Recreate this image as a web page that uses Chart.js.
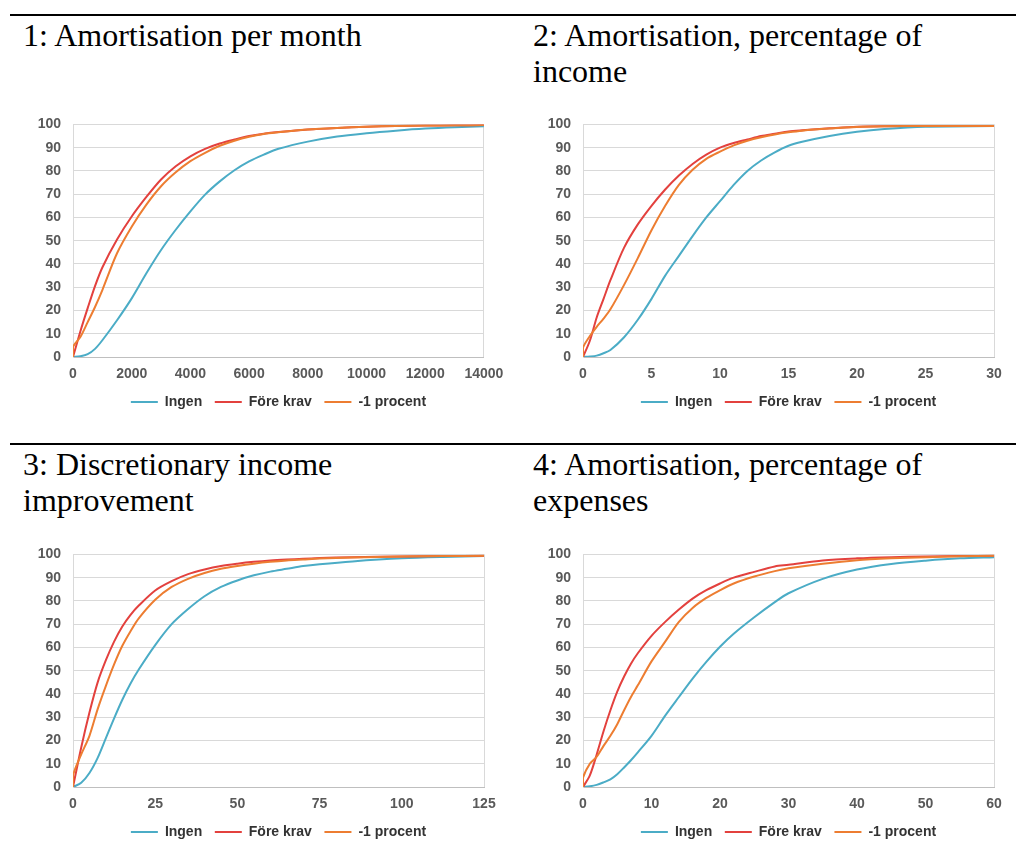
<!DOCTYPE html>
<html>
<head>
<meta charset="utf-8">
<script src="https://cdn.jsdelivr.net/npm/chart.js@4"></script>
<style>
  html, body { margin: 0; padding: 0; background: #ffffff; }
  body { width: 1016px; height: 863px; position: relative; overflow: hidden; }
  .rule { position: absolute; left: 10px; width: 1006px; height: 2px; background: #000; }
  .title { position: absolute; font-family: "Liberation Serif", "Times New Roman", serif; font-size: 32px; line-height: 36px; color: #000; white-space: nowrap; }
  .box { position: absolute; width: 492px; height: 320px; }
</style>
</head>
<body>
<div class="rule" style="top:14px"></div>
<div class="rule" style="top:443px"></div>

<div class="title" style="left:23px; top:17px">1: Amortisation per month</div>
<div class="title" style="left:533px; top:17px">2: Amortisation, percentage of<br>income</div>
<div class="title" style="left:23px; top:446px">3: Discretionary income<br>improvement</div>
<div class="title" style="left:533px; top:446px">4: Amortisation, percentage of<br>expenses</div>

<div class="box" style="left:20px; top:104px"><canvas id="c1"></canvas></div>
<div class="box" style="left:530px; top:104px"><canvas id="c2"></canvas></div>
<div class="box" style="left:20px; top:534px"><canvas id="c3"></canvas></div>
<div class="box" style="left:530px; top:534px"><canvas id="c4"></canvas></div>

<script>
// ---- Data ----
const seriesNames = ["Ingen", "Före krav", "-1 procent"];
const seriesColors = ["#4BACC6", "#E3413E", "#ED7D31"];
const yTicks = [0, 10, 20, 30, 40, 50, 60, 70, 80, 90, 100];

// Panel 1: Amortisation per month
const x1 = [0, 0, 250, 500, 750, 1000, 1500, 2000, 2500, 3000, 3500, 4000, 4500, 5000, 5500, 6000, 6500, 7000, 8000, 9000, 10000, 11000, 12000, 13000, 14000];
const ingen1 = [0, 0, 0.3, 1.2, 3.5, 7.2, 15.8, 25.2, 36, 46, 54.7, 62.6, 69.8, 75.5, 80.3, 84.1, 87, 89.5, 92.6, 94.8, 96.2, 97.3, 98.2, 98.8, 99.2];
const fore1 = [0, 0, 11, 21, 30.5, 38.5, 50.5, 60.4, 68.8, 76.3, 82, 86.3, 89.5, 91.8, 93.5, 95, 96, 96.7, 97.8, 98.5, 99, 99.3, 99.5, 99.6, 99.7];
const minus1 = [0, 4.3, 8.6, 15, 21.5, 28.8, 44.6, 56, 65.5, 73.4, 79.4, 84.2, 87.8, 90.8, 93, 94.7, 95.9, 96.6, 97.8, 98.5, 99, 99.3, 99.5, 99.6, 99.7];
const xTicks1 = [0, 2000, 4000, 6000, 8000, 10000, 12000, 14000];

// Panel 2: Amortisation, percentage of income
const x2 = [0, 0, 0.5, 1, 1.5, 2, 3, 4, 5, 6, 7, 8, 9, 10, 11, 12, 13, 14, 15, 16, 18, 20, 22, 25, 30];
const ingen2 = [0, 0, 0.2, 0.6, 1.6, 3, 8.5, 16, 25, 35, 43.5, 52, 60, 67, 74, 80, 84.5, 88, 90.8, 92.5, 95, 96.8, 98, 99, 99.3];
const fore2 = [0, 0, 7, 17, 25, 33, 47, 57, 65, 72, 78, 83, 87, 90, 92, 93.5, 95, 96, 97, 97.5, 98.3, 99, 99.2, 99.3, 99.3];
const minus2 = [0, 4, 9, 13, 16.5, 20.5, 31, 42.5, 54.5, 65, 74, 80.5, 85.2, 88.3, 91, 93, 94.5, 95.7, 96.6, 97.3, 98.2, 98.9, 99.2, 99.3, 99.3];
const xTicks2 = [0, 5, 10, 15, 20, 25, 30];

// Panel 3: Discretionary income improvement
const x3 = [0, 0, 2.5, 5, 7.5, 10, 12.5, 15, 17.5, 20, 25, 30, 35, 40, 45, 50, 55, 60, 65, 70, 75, 85, 100, 112.5, 125];
const ingen3 = [0, 0, 1.8, 6, 12.5, 21, 29.5, 37.5, 44.5, 50.5, 61, 70, 76.5, 82, 86, 88.8, 91, 92.6, 93.8, 95, 95.8, 97, 98.3, 98.9, 99.3];
const fore3 = [0, 0, 17, 32, 45, 54.5, 62.5, 69, 74, 78, 84.5, 88.5, 91.5, 93.5, 95, 96, 96.8, 97.4, 97.8, 98.1, 98.4, 98.8, 99.1, 99.3, 99.4];
const minus3 = [0, 5, 14, 22, 33.5, 43.5, 52.7, 60.7, 67, 72.5, 80.5, 86, 89.5, 92, 93.8, 95, 96, 96.8, 97.4, 97.8, 98.2, 98.7, 99.1, 99.3, 99.4];
const xTicks3 = [0, 25, 50, 75, 100, 125];

// Panel 4: Amortisation, percentage of expenses
const x4 = [0, 0, 1, 2, 3, 4, 5, 6, 7, 8, 10, 12, 14, 16, 18, 20, 22, 25, 28, 30, 35, 40, 45, 50, 55, 60];
const ingen4 = [0, 0, 0.3, 0.9, 2, 3.3, 5.5, 8.4, 11.5, 14.9, 22, 30.7, 38.7, 46.6, 53.8, 60.3, 65.9, 73, 79.5, 83.3, 89.5, 93.5, 95.9, 97.3, 98.3, 98.8];
const fore4 = [0, 0, 5, 14, 24, 33, 41, 47.5, 53, 57.5, 65, 71, 76.3, 81, 84.6, 87.5, 90, 92.5, 94.8, 95.5, 97.4, 98.3, 98.8, 99.1, 99.3, 99.4];
const minus4 = [0, 4, 10, 13, 17.7, 22, 27, 33, 38.7, 43.7, 54, 62.5, 71, 77, 81.3, 84.6, 87.5, 90.5, 92.8, 94, 96, 97.5, 98.3, 98.8, 99.2, 99.4];
const xTicks4 = [0, 10, 20, 30, 40, 50, 60];

// ---- Drawing ----
const tickFont = { family: "'Liberation Sans', Arial, sans-serif", size: 14, weight: "bold" };

function pts(xs, ys) { return xs.map((x, i) => ({ x: x, y: ys[i] })); }

function makeChart(id, xs, seriesList, xTicks) {
  const xMin = xTicks[0], xMax = xTicks[xTicks.length - 1];
  const datasets = seriesList.map((ys, i) => ({
    label: seriesNames[i],
    data: pts(xs, ys),
    borderColor: seriesColors[i],
    backgroundColor: seriesColors[i],
    borderWidth: 2,
    pointRadius: 0,
    pointHoverRadius: 0,
    fill: false,
    tension: 0.3,
    order: 3 - i
  }));
  return new Chart(document.getElementById(id), {
    type: "line",
    data: { datasets: datasets },
    options: {
      responsive: true,
      maintainAspectRatio: false,
      animation: false,
      events: [],
      layout: { padding: { left: 0, right: 28, top: 10, bottom: 5 } },
      scales: {
        x: {
          type: "linear",
          min: xMin,
          max: xMax,
          afterBuildTicks: (s) => { s.ticks = xTicks.map(v => ({ value: v })); },
          afterFit: (s) => { s.height = 25.4; },
          ticks: { font: tickFont, color: "#595959", padding: 8.6, maxRotation: 0, autoSkip: false, callback: (v) => String(v) },
          grid: {
            drawTicks: false,
            color: (c) => (c.tick && c.tick.value === xMax) ? "#d9d9d9" : "rgba(0,0,0,0)",
            lineWidth: 1
          },
          border: { display: true, color: "#bfbfbf", width: 1 }
        },
        y: {
          min: 0,
          max: 100,
          afterBuildTicks: (s) => { s.ticks = yTicks.map(v => ({ value: v })); },
          afterFit: (s) => { s.width = 53; },
          ticks: { font: tickFont, color: "#595959", padding: 12, callback: (v) => String(v) },
          grid: { drawTicks: false, color: "#d9d9d9", lineWidth: 1 },
          border: { display: true, color: "#d9d9d9", width: 1 }
        }
      },
      plugins: {
        tooltip: { enabled: false },
        legend: {
          position: "bottom",
          fullSize: false,
          labels: {
            usePointStyle: true,
            pointStyle: "line",
            pointStyleWidth: 27,
            font: tickFont,
            color: "#333333",
            padding: 12.6,
            sort: (a, b) => a.datasetIndex - b.datasetIndex
          }
        }
      }
    }
  });
}

makeChart("c1", x1, [ingen1, fore1, minus1], xTicks1);
makeChart("c2", x2, [ingen2, fore2, minus2], xTicks2);
makeChart("c3", x3, [ingen3, fore3, minus3], xTicks3);
makeChart("c4", x4, [ingen4, fore4, minus4], xTicks4);
</script>
</body>
</html>
